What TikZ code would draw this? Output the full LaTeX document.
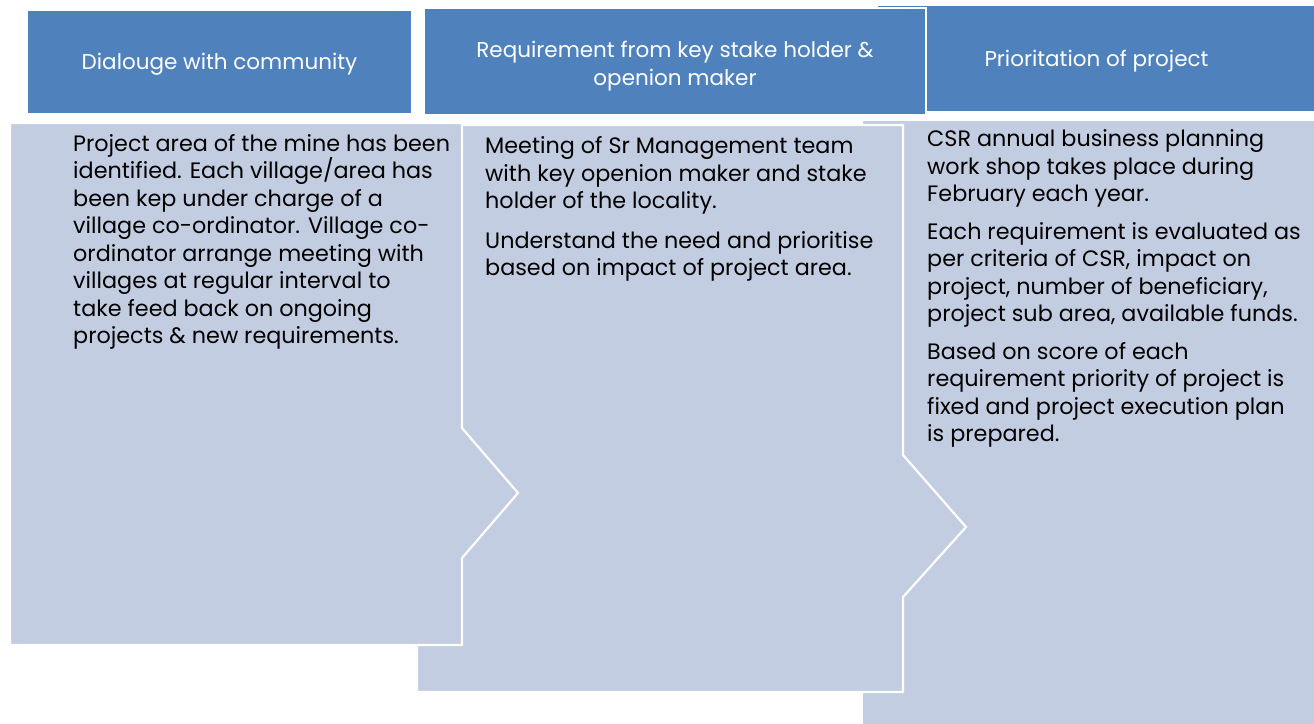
\documentclass[tikz,border=0pt]{standalone}
\usepackage{fontspec}
\setmainfont{Poppins}
\usepackage{xcolor}
\usetikzlibrary{positioning}
\definecolor{headblue}{HTML}{4F81BD}
\definecolor{paneblue}{HTML}{C3CDE1}

\begin{document}
\begin{tikzpicture}[x=1pt,y=-1pt,
  headbox/.style={draw=white,line width=1.2pt,fill=headblue,inner sep=0pt},
  headtext/.style={text=white,align=center,inner sep=0pt,
    font=\fontsize{21.5}{27.5}\selectfont},
  panebox/.style={draw=white,line width=2.2pt,fill=paneblue},
  panetext/.style={anchor=base west,align=left,inner sep=0pt,
    font=\fontsize{22.3}{27.5}\selectfont}]
  \useasboundingbox[fill=white] (0,0) rectangle (1314,723);

  \path[panebox] (862,120) rectangle (1320,730);
  \path[panebox] (417,125) -- (903,125) -- (903,455) -- (966,527) -- (903,597) -- (903,692) -- (417,692) -- cycle;
  \path[panebox] (10,123) -- (462,123) -- (462,428) -- (518,493) -- (462,558) -- (462,645) -- (10,645) -- cycle;

  \node[headbox,minimum width=439pt,minimum height=107pt,
    label={[headtext,yshift=-3pt]center:Prioritation of project}] (prio) at (1096.5,58.5) {};
  \node[headbox,minimum width=502pt,minimum height=107pt,
    label={[headtext,yshift=-4.5pt]center:{Requirement from key stake holder \&\\ openion maker}}] (stake) at (675,61.5) {};
  \node[headbox,minimum width=385pt,minimum height=104pt,
    label={[headtext,yshift=-2pt]center:Dialouge with community}] (comm) at (219.5,62) {};

  % anchors sit on the baseline of the last line
  \node[panetext] (commtext) at (73,343.5) {Project area of the mine has been\\
    identified. Each village/area has\\ been kep under charge of a\\
    village co-ordinator. Village co-\\ ordinator arrange meeting with\\
    villages at regular interval to\\ take feed back on ongoing\\
    projects \& new requirements.};
  \node[panetext] (staketext) at (485,275.5) {Meeting of Sr Management team\\
    with key openion maker and stake\\ holder of the locality.\\[12pt]
    Understand the need and prioritise\\ based on impact of project area.};
  \node[panetext] (priotext) at (927,441.7) {CSR annual business planning\\
    work shop takes place during\\ February each year.\\[10pt]
    Each requirement is evaluated as\\ per criteria of CSR, impact on\\
    project, number of beneficiary,\\ project sub area, available funds.\\[10pt]
    Based on score of each\\ requirement priority of project is\\
    fixed and project execution plan\\ is prepared.};
\end{tikzpicture}
\end{document}
